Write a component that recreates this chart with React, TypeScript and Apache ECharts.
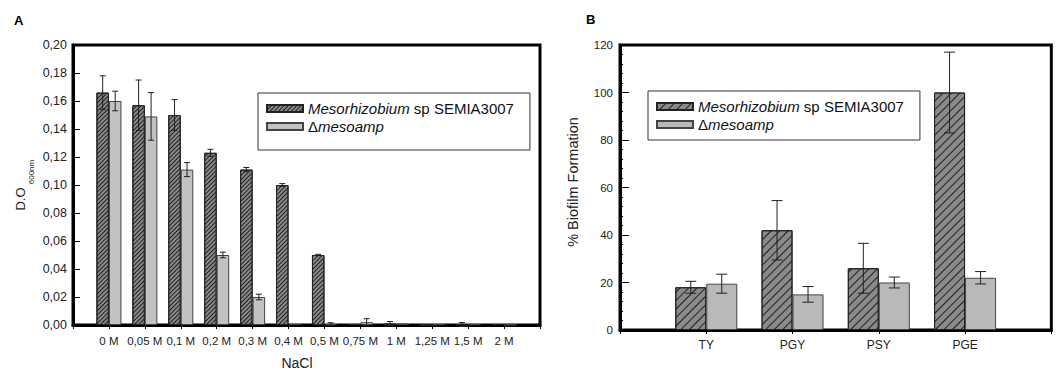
import React, { useEffect, useRef } from "react";
import * as echarts from "echarts";

const catsA = ["0 M", "0,05 M", "0,1 M", "0,2 M", "0,3 M", "0,4 M", "0,5 M", "0,75 M", "1 M", "1,25 M", "1,5 M", "2 M"];
const darkA = [0.166, 0.157, 0.150, 0.123, 0.111, 0.100, 0.050, 0.0007, 0.001, 0, 0.0004, 0.0006];
const darkErrA = [0.012, 0.018, 0.011, 0.0025, 0.0015, 0.001, 0.0005, 0, 0.0015, 0, 0.0014, 0];
const grayA = [0.160, 0.149, 0.111, 0.050, 0.020, 0.0008, 0.0006, 0.002, 0.001, 0.0005, 0.0005, 0.0002];
const grayErrA = [0.007, 0.017, 0.005, 0.002, 0.002, 0, 0.001, 0.0025, 0, 0, 0, 0];

const catsB = ["TY", "PGY", "PSY", "PGE"];
const darkB = [18, 42, 26, 100];
const darkErrB = [2.5, 12.5, 10.5, 17];
const grayB = [19.5, 15, 20, 22];
const grayErrB = [4, 3.3, 2.3, 2.6];

const NAME_WT = "Mesorhizobium sp SEMIA3007";
const NAME_MUT = "\u0394mesoamp";
const FONT = "'Liberation Sans', Arial, sans-serif";

export default function App() {
  const ref = useRef<HTMLDivElement>(null);
  useEffect(() => {
    if (!ref.current) return;
    const chart = echarts.init(ref.current, null, { renderer: "svg" });

    const padCats = (c: string[]) => ["", ...c, " "];
    const pairs = (v: number[]) => v.map((y, i) => [i + 1, y]);
    const errs = (v: number[], e: number[]) => v.map((y, i) => [i + 1, y - e[i], y + e[i], e[i]]);

    const bwA = 12.5;
    const bwB = 31;

    const errSeries = (xi: number, data: number[][], offset: number, cap: number) => ({
      type: "custom",
      xAxisIndex: xi,
      yAxisIndex: xi,
      z: 10,
      silent: true,
      data,
      encode: { x: 0, y: [1, 2] },
      renderItem: (params: any, api: any) => {
        if (api.value(3) <= 0) return null;
        const lo = api.coord([api.value(0), api.value(1)]);
        const hi = api.coord([api.value(0), api.value(2)]);
        const x = lo[0] + offset;
        const st = { stroke: "#222", lineWidth: 1 };
        return {
          type: "group",
          children: [
            { type: "line", shape: { x1: x, y1: lo[1], x2: x, y2: hi[1] }, style: st },
            { type: "line", shape: { x1: x - cap, y1: hi[1], x2: x + cap, y2: hi[1] }, style: st },
            { type: "line", shape: { x1: x - cap, y1: lo[1], x2: x + cap, y2: lo[1] }, style: st },
          ],
        };
      },
    });

    const decalDense = { symbol: "rect", symbolSize: 1, dashArrayX: [1, 0], dashArrayY: [1, 1.6], rotation: -Math.PI / 4, color: "rgba(20,20,20,0.9)" };
    const decalSparse = { symbol: "rect", symbolSize: 1, dashArrayX: [1, 0], dashArrayY: [1, 4.5], rotation: -Math.PI / 4, color: "rgba(20,20,20,0.9)" };

    const richText = {
      i: { fontStyle: "italic", fontSize: 15, fontFamily: FONT, color: "#111" },
      n: { fontSize: 15, fontFamily: FONT, color: "#111" },
    };
    const legendFmt = (name: string) =>
      name.trim() === NAME_WT ? "{i|Mesorhizobium}{n| sp SEMIA3007}" : "{n|\u0394}{i|mesoamp}";

    const axisLine = { show: true, lineStyle: { color: "#000", width: 3 } };

    chart.setOption({
      animation: false,
      backgroundColor: "#fff",
      grid: [
        { left: 73, top: 45, width: 467, height: 280, show: true, borderColor: "#000", borderWidth: 3 },
        { left: 620, top: 45, width: 445, height: 285, show: true, borderColor: "#000", borderWidth: 3 },
      ],
      legend: [
        {
          left: 258, top: 93, orient: "vertical", icon: "rect", itemWidth: 36, itemHeight: 7, itemGap: 3,
          padding: [8, 16, 16, 8], borderColor: "#333", borderWidth: 1, selectedMode: false,
          data: [NAME_WT, NAME_MUT], formatter: legendFmt,
          textStyle: { fontSize: 15, fontFamily: FONT, color: "#111", rich: richText },
        },
        {
          left: 648, top: 91, orient: "vertical", icon: "rect", itemWidth: 36, itemHeight: 7, itemGap: 3,
          padding: [8, 16, 8, 8], borderColor: "#333", borderWidth: 1, selectedMode: false,
          data: [NAME_WT + " ", NAME_MUT + " "], formatter: legendFmt,
          textStyle: { fontSize: 15, fontFamily: FONT, color: "#111", rich: richText },
        },
      ],
      xAxis: [
        {
          type: "category", gridIndex: 0, data: padCats(catsA), boundaryGap: false,
          axisLine, axisTick: { show: true, inside: false, length: 4, lineStyle: { color: "#000" } },
          axisLabel: { interval: 0, fontSize: 11.5, fontFamily: FONT, color: "#222", margin: 10 },
          splitLine: { show: false },
        },
        {
          type: "category", gridIndex: 1, data: padCats(catsB), boundaryGap: false,
          axisLine, axisTick: { show: true, inside: false, length: 4, lineStyle: { color: "#000" } },
          axisLabel: { interval: 0, fontSize: 12, fontFamily: FONT, color: "#222", margin: 9 },
          splitLine: { show: false },
        },
      ],
      yAxis: [
        {
          type: "value", gridIndex: 0, min: 0, max: 0.2, interval: 0.02,
          axisLine, axisTick: { show: true, inside: true, length: 7, lineStyle: { color: "#000" } },
          axisLabel: { fontSize: 12.5, fontFamily: FONT, color: "#222", margin: 6, formatter: (v: number) => v.toFixed(2).replace(".", ",") },
          splitLine: { show: false },
        },
        {
          type: "value", gridIndex: 1, min: 0, max: 120, interval: 20,
          axisLine, axisTick: { show: true, inside: true, length: 9, lineStyle: { color: "#000" } },
          minorTick: { show: true, splitNumber: 5, length: 3, lineStyle: { color: "#000" } },
          axisLabel: { fontSize: 11.5, fontFamily: FONT, color: "#222", margin: 7 },
          splitLine: { show: false },
        },
      ],
      series: [
        {
          name: NAME_WT, type: "bar", xAxisIndex: 0, yAxisIndex: 0, barWidth: bwA, barGap: 0,
          data: pairs(darkA),
          itemStyle: { color: "#8a8a8a", borderColor: "#222", borderWidth: 1, decal: decalDense },
        },
        {
          name: NAME_MUT, type: "bar", xAxisIndex: 0, yAxisIndex: 0, barWidth: bwA, barGap: 0,
          data: pairs(grayA),
          itemStyle: { color: "#c2c2c2", borderColor: "#444", borderWidth: 1 },
        },
        errSeries(0, errs(darkA, darkErrA), -bwA / 2, 3),
        errSeries(0, errs(grayA, grayErrA), bwA / 2, 3),
        {
          name: NAME_WT + " ", type: "bar", xAxisIndex: 1, yAxisIndex: 1, barWidth: bwB, barGap: 0,
          data: pairs(darkB),
          itemStyle: { color: "#8a8a8a", borderColor: "#222", borderWidth: 1, decal: decalSparse },
        },
        {
          name: NAME_MUT + " ", type: "bar", xAxisIndex: 1, yAxisIndex: 1, barWidth: bwB, barGap: 0,
          data: pairs(grayB),
          itemStyle: { color: "#b9b9b9", borderColor: "#444", borderWidth: 1 },
        },
        errSeries(1, errs(darkB, darkErrB), -bwB / 2, 5.5),
        errSeries(1, errs(grayB, grayErrB), bwB / 2, 5.5),
      ],
      graphic: [
        { type: "text", left: 14, top: 14, style: { text: "A", fontSize: 13, fontWeight: "bold", fontFamily: FONT, fill: "#000" } },
        { type: "text", left: 586, top: 13, style: { text: "B", fontSize: 13, fontWeight: "bold", fontFamily: FONT, fill: "#000" } },
        { type: "text", x: 297, y: 363, style: { text: "NaCl", fontSize: 14, fontFamily: FONT, fill: "#222", align: "center", verticalAlign: "middle" } },
        { type: "text", x: 20, y: 199, rotation: Math.PI / 2, style: { text: "D.O", fontSize: 13, fontFamily: FONT, fill: "#222", align: "center", verticalAlign: "middle" } },
        { type: "text", x: 31, y: 172, rotation: Math.PI / 2, style: { text: "600nm", fontSize: 8, fontFamily: FONT, fill: "#222", align: "center", verticalAlign: "middle" } },
        { type: "text", x: 573, y: 182, rotation: Math.PI / 2, style: { text: "% Biofilm Formation", fontSize: 14.5, fontFamily: FONT, fill: "#222", align: "center", verticalAlign: "middle" } },
      ],
    });
    return () => chart.dispose();
  }, []);
  return <div ref={ref} style={{ width: 1056, height: 372, position: "absolute", left: 0, top: 0 }} />;
}
